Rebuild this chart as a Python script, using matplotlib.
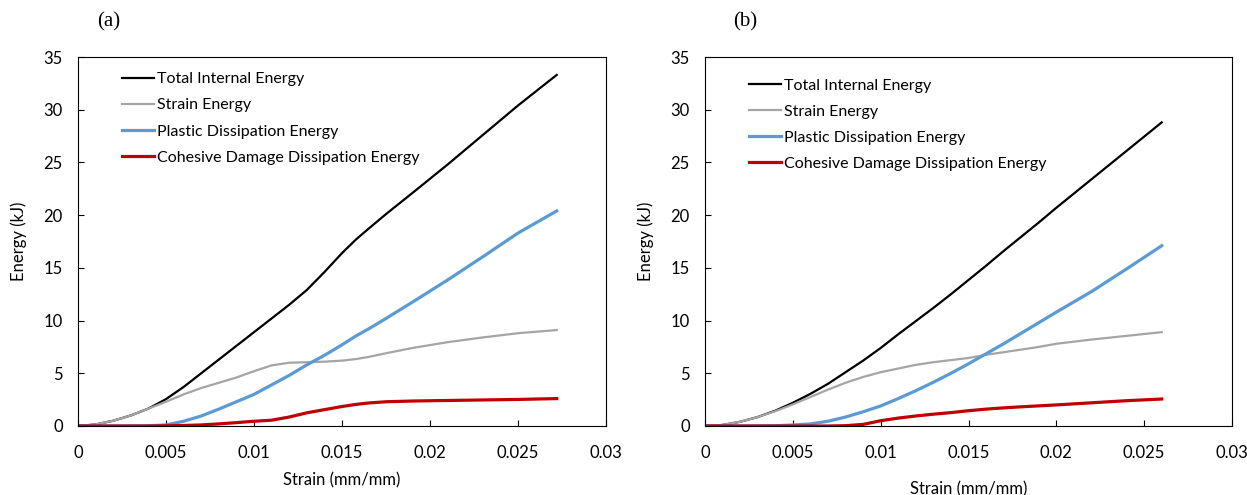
import matplotlib
matplotlib.use("Agg")
import matplotlib.pyplot as plt

# panel (a)
strain_a = [0, 0.001, 0.002, 0.003, 0.004, 0.005, 0.006, 0.007, 0.008, 0.009, 0.010, 0.011,
            0.012, 0.013, 0.014, 0.015, 0.0158, 0.0165, 0.0175, 0.019, 0.021, 0.023, 0.025,
            0.0272]
total_a = [0, 0.15, 0.5, 1.0, 1.65, 2.55, 3.7, 5.0, 6.3, 7.6, 8.9, 10.2,
           11.5, 12.9, 14.6, 16.4, 17.7, 18.7, 20.1, 22.1, 24.8, 27.6, 30.4,
           33.3]
strain_en_a = [0, 0.15, 0.5, 1.0, 1.65, 2.3, 3.0, 3.6, 4.1, 4.6, 5.2, 5.75,
               6.0, 6.05, 6.1, 6.2, 6.35, 6.55, 6.9, 7.4, 7.95, 8.4, 8.8,
               9.1]
plastic_a = [0, 0, 0, 0, 0.02, 0.1, 0.45, 0.95, 1.6, 2.3, 3.0, 3.9,
             4.8, 5.8, 6.7, 7.7, 8.55, 9.2, 10.2, 11.75, 13.85, 16.05, 18.3,
             20.4]
cohesive_a = [0, 0, 0, 0, 0, 0.02, 0.05, 0.1, 0.2, 0.32, 0.45, 0.55,
              0.85, 1.25, 1.55, 1.85, 2.05, 2.18, 2.3, 2.37, 2.42, 2.47, 2.52,
              2.6]

# panel (b)
strain_b = [0, 0.001, 0.002, 0.003, 0.004, 0.005, 0.006, 0.007, 0.008, 0.009, 0.010, 0.011,
            0.012, 0.013, 0.014, 0.015, 0.016, 0.017, 0.018, 0.019, 0.020, 0.022, 0.024,
            0.026]
total_b = [0, 0.1, 0.4, 0.85, 1.45, 2.2, 3.05, 4.0, 5.1, 6.2, 7.4, 8.7,
           9.95, 11.2, 12.5, 13.85, 15.2, 16.6, 17.95, 19.3, 20.7, 23.4, 26.1,
           28.8]
strain_en_b = [0, 0.1, 0.4, 0.85, 1.4, 2.05, 2.75, 3.45, 4.1, 4.65, 5.1, 5.45,
               5.8, 6.05, 6.25, 6.45, 6.75, 7.0, 7.25, 7.5, 7.8, 8.2, 8.55,
               8.9]
plastic_b = [0, 0, 0, 0, 0.02, 0.1, 0.2, 0.45, 0.85, 1.35, 1.9, 2.6,
             3.35, 4.15, 5.0, 5.9, 6.85, 7.8, 8.8, 9.8, 10.8, 12.75, 14.9,
             17.1]
cohesive_b = [0, 0, 0, 0, 0, 0, 0, 0, 0.03, 0.15, 0.5, 0.75,
              0.95, 1.12, 1.27, 1.45, 1.6, 1.72, 1.82, 1.91, 2.0, 2.2, 2.4,
              2.56]

labels = ["Total Internal Energy", "Strain Energy", "Plastic Dissipation Energy",
          "Cohesive Damage Dissipation Energy"]
colors = ["#000000", "#A5A5A5", "#5B9BD5", "#C00000"]
widths = [1.6, 1.6, 2.3, 2.3]

plt.rcParams['font.family'] = ['Lato', 'DejaVu Sans']

fig = plt.figure(figsize=(12.47, 4.95), dpi=100)
ax_a = fig.add_axes([78 / 1247, 69 / 495, 528 / 1247, 369 / 495])
ax_b = fig.add_axes([705 / 1247, 69 / 495, 527 / 1247, 369 / 495])

panels = [
    (ax_a, strain_a, [total_a, strain_en_a, plastic_a, cohesive_a], "(a)", 97 / 1247, 8, 0.998),
    (ax_b, strain_b, [total_b, strain_en_b, plastic_b, cohesive_b], "(b)", 733 / 1247, 14, 0.981),
]

for ax, x, series, tag, tag_x, xpad, leg_y in panels:
    for y, lab, c, w in zip(series, labels, colors, widths):
        ax.plot(x, y, color=c, lw=w, label=lab, solid_joinstyle="round")
    ax.set_xlim(0, 0.03)
    ax.set_ylim(0, 35)
    ax.set_xticks([0, 0.005, 0.01, 0.015, 0.02, 0.025, 0.03])
    ax.set_xticklabels(["0", "0.005", "0.01", "0.015", "0.02", "0.025", "0.03"])
    ax.set_yticks(range(0, 36, 5))
    ax.tick_params(direction="in", length=4, labelsize=12, width=0.8)
    ax.tick_params(axis="x", pad=14)
    ax.tick_params(axis="y", pad=11)
    for s in ax.spines.values():
        s.set_linewidth(0.8)
    ax.set_xlabel("Strain (mm/mm)", fontsize=12, labelpad=xpad)
    ax.set_ylabel("Energy (kJ)", fontsize=12, labelpad=12)
    ax.legend(loc="upper left", frameon=False, fontsize=11.5,
              handlelength=2.0, handletextpad=0.2, labelspacing=0.75,
              bbox_to_anchor=(0.056, leg_y))
    fig.text(tag_x, 0.955, tag, fontsize=15, family="Liberation Serif", va="center")

fig.savefig("out.png", dpi=100)
